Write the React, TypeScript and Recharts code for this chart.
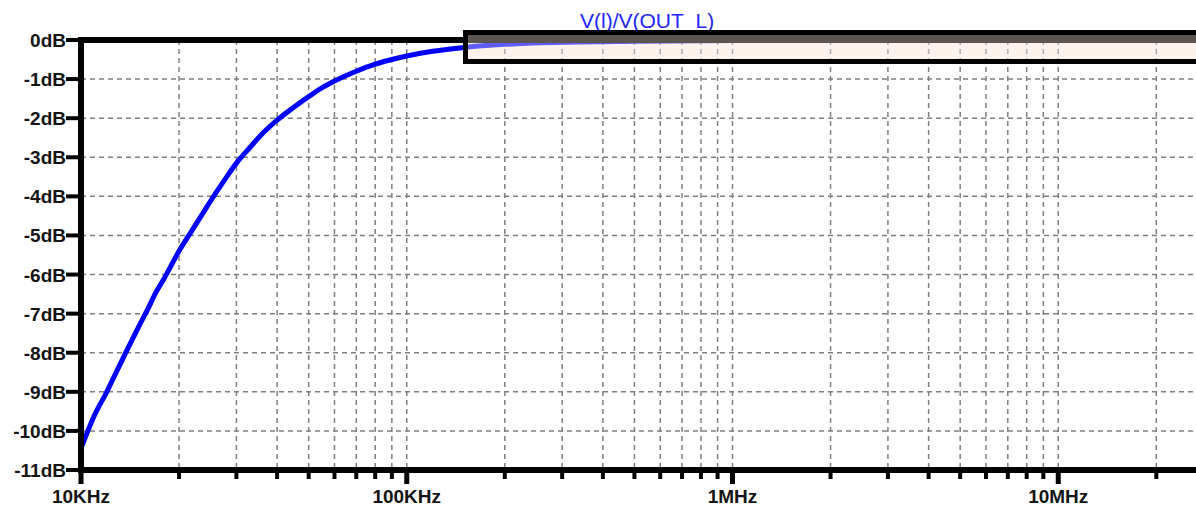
import React from "react";
import { LineChart, Line, XAxis, YAxis, CartesianGrid, ReferenceLine } from "recharts";

// Frequency (Hz) of each sample of the trace
const freqs = [
  10000, 11000, 12000, 13000, 14000, 15000, 16000, 17000, 18000, 20000, 22000,
  24000, 26000, 28000, 30000, 33000, 36000, 40000, 45000, 50000, 55000, 60000,
  70000, 80000, 90000, 100000, 120000, 150000, 200000, 300000, 500000, 1000000,
  3000000, 10000000, 100000000,
];
// Magnitude (dB) of V(l)/V(OUT_L) at each frequency
const gains = [
  -10.45, -9.6, -9.0, -8.4, -7.85, -7.35, -6.9, -6.45, -6.1, -5.4, -4.85,
  -4.35, -3.9, -3.5, -3.15, -2.75, -2.4, -2.05, -1.72, -1.45, -1.22, -1.05,
  -0.8, -0.62, -0.5, -0.41, -0.29, -0.19, -0.11, -0.06, -0.035, -0.012,
  -0.002, 0, 0,
];

const decades = [10000, 100000, 1000000, 10000000];
const decadeLabels = ["10KHz", "100KHz", "1MHz", "10MHz"];
const multipliers = [1, 2, 3, 4, 5, 6, 7, 8, 9];
const xTicks = [...decades, 100000000].flatMap((d, i) =>
  i < decades.length ? multipliers.map((m) => d * m) : [d]
);
const yTicks = [0, -1, -2, -3, -4, -5, -6, -7, -8, -9, -10, -11];
const traceName = "V(l)/V(OUT_L)";

const data = freqs.map((f, i) => ({ f, db: gains[i] }));

const FONT = "Arial, 'Liberation Sans', sans-serif";
const TEXT = "#141414";

const XTick = (props: any) => {
  const { x, y, payload } = props;
  const v = payload.value as number;
  const di = decades.indexOf(v);
  const major = di >= 0 || v === 100000000;
  return (
    <g>
      <line x1={x} x2={x} y1={y} y2={y + (major ? 14 : 9)} stroke="#000" strokeWidth={major ? 5 : 4} />
      {di >= 0 && (
        <text x={x} y={y} dy={33} textAnchor="middle" fontSize={19} fontWeight="bold" fill={TEXT} fontFamily={FONT}>
          {decadeLabels[di]}
        </text>
      )}
    </g>
  );
};

const YTick = (props: any) => {
  const { x, y, payload } = props;
  return (
    <g>
      <line x1={x - 15} x2={x} y1={y} y2={y} stroke="#000" strokeWidth={4} />
      <text x={x - 15} y={y} dy={7} textAnchor="end" fontSize={19} fontWeight="bold" fill={TEXT} fontFamily={FONT}>
        {payload.value}dB
      </text>
    </g>
  );
};

export default function App() {
  return (
    <div style={{ position: "absolute", left: 0, top: 0, width: 1196, height: 506, overflow: "hidden", background: "#fff" }}>
      {/* pink underlay of the overlaid panel */}
      <div style={{ position: "absolute", left: 463, top: 30, width: 800, height: 34, background: "#fdf3ec" }} />
      <div style={{ position: "absolute", left: 0, top: 0 }}>
        <LineChart width={1384} height={506} data={data} margin={{ top: 40, right: 0, left: 0, bottom: 0 }}>
          <CartesianGrid stroke="#808080" strokeWidth={1.5} strokeDasharray="5 4" />
          <XAxis
            dataKey="f"
            type="number"
            scale="log"
            domain={[10000, 100000000]}
            ticks={xTicks}
            allowDataOverflow
            interval={0}
            tickSize={0}
            tickMargin={0}
            tickLine={false}
            axisLine={{ stroke: "#000", strokeWidth: 6 }}
            tick={<XTick />}
            height={36}
          />
          <YAxis
            type="number"
            domain={[-11, 0]}
            ticks={yTicks}
            interval={0}
            width={81}
            tickSize={0}
            tickMargin={0}
            tickLine={false}
            axisLine={{ stroke: "#000", strokeWidth: 6, strokeLinecap: "square" }}
            tick={<YTick />}
          />
          <ReferenceLine y={0} stroke="#000" strokeWidth={6} />
          <Line dataKey="db" type="monotone" dot={false} stroke="#0000ff" strokeWidth={5} isAnimationActive={false} />
        </LineChart>
      </div>
      {/* trace title */}
      <div
        style={{
          position: "absolute",
          left: 580,
          top: 9,
          fontFamily: FONT,
          fontSize: 21,
          color: "#2424ff",
          whiteSpace: "nowrap",
          lineHeight: "24px",
        }}
      >
        {traceName}
      </div>
      {/* overlaid panel */}
      <div
        style={{
          position: "absolute",
          left: 463,
          top: 30,
          width: 800,
          height: 24,
          border: "5px solid #000",
          background: "rgba(253,243,236,0.38)",
        }}
      >
        <div style={{ height: 8, background: "#5c544f" }} />
      </div>
    </div>
  );
}
